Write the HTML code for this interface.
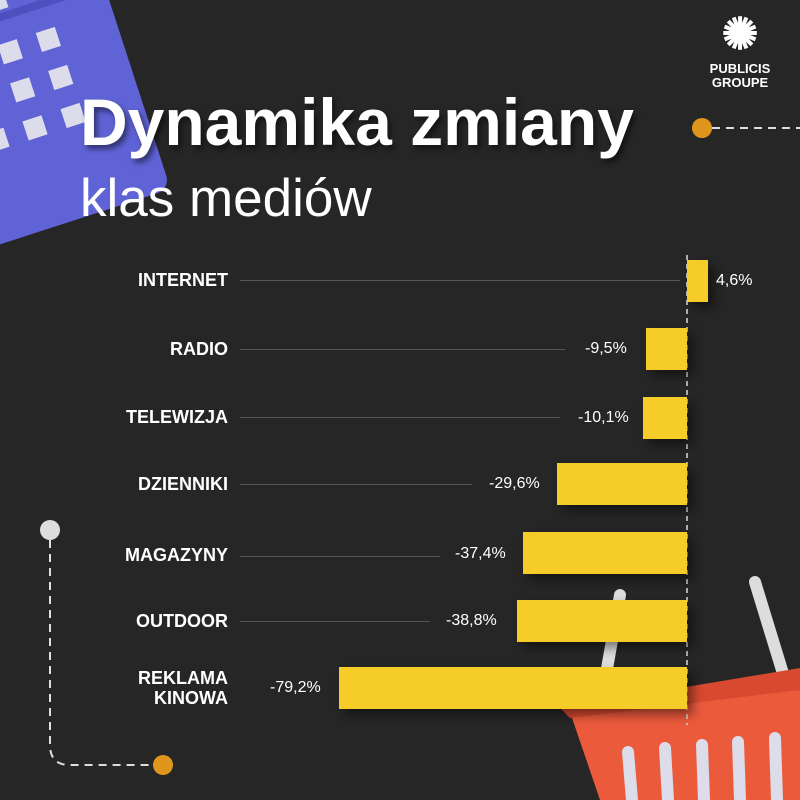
<!DOCTYPE html>
<html><head><style>
body{margin:0;width:800px;height:800px;background:#262626;overflow:hidden;position:relative;font-family:"Liberation Sans",sans-serif}
.l{position:absolute;right:572px;color:#fff;font-weight:bold;font-size:18px;text-align:right;line-height:20px}
.v{position:absolute;color:#fff;font-size:16px}
.b{position:absolute;background:#f6cc28;height:42px;box-shadow:6px 6px 10px rgba(0,0,0,.45)}
.g{position:absolute;left:240px;height:1px;background:#555}
</style></head><body>
<svg width="800" height="800" style="position:absolute;left:0;top:0">
<g transform="translate(-10 -14) rotate(-18 80 120)">
<rect x="-80" y="-60" width="230" height="290" rx="14" fill="#5f63d6"/>
<rect x="-80" y="10" width="230" height="8" fill="#4d51c0"/>
<g fill="#dcdcea">
<rect x="-10" y="40" width="20" height="20"/><rect x="30" y="40" width="20" height="20"/><rect x="70" y="40" width="20" height="20"/>
<rect x="-10" y="80" width="20" height="20"/><rect x="30" y="80" width="20" height="20"/><rect x="70" y="80" width="20" height="20"/>
<rect x="-10" y="120" width="20" height="20"/><rect x="30" y="120" width="20" height="20"/><rect x="70" y="120" width="20" height="20"/>
<rect x="-10" y="-15" width="12" height="22"/><rect x="40" y="-15" width="12" height="22"/>
</g></g>
<path d="M50 540 V745 Q50 765 70 765 H150" stroke="#ddd" stroke-width="2" stroke-dasharray="8 6" fill="none"/>
<circle cx="50" cy="530" r="10" fill="#ddd"/>
<circle cx="163" cy="765" r="10" fill="#e0961c"/>
<path d="M712 128 H800" stroke="#ddd" stroke-width="2" stroke-dasharray="8 6"/>
<circle cx="702" cy="128" r="10" fill="#e0961c"/>
<line x1="620" y1="595" x2="605" y2="680" stroke="#ddd" stroke-width="12" stroke-linecap="round"/>
<line x1="755" y1="582" x2="785" y2="680" stroke="#ddd" stroke-width="12" stroke-linecap="round"/>
<polygon points="570,712 800,675 800,800 600,800" fill="#ec5a3c"/>
<polygon points="560,708 800,668 800,690 570,718" fill="#d84a30"/>
<g stroke="#dcdcea" stroke-width="12" stroke-linecap="round">
<line x1="628" y1="752" x2="632" y2="800"/><line x1="665" y1="748" x2="668" y2="800"/><line x1="702" y1="745" x2="704" y2="800"/><line x1="738" y1="742" x2="740" y2="800"/><line x1="775" y1="738" x2="777" y2="800"/>
</g>
<line x1="687" y1="255" x2="687" y2="725" stroke="#ddd" stroke-width="1.5" stroke-dasharray="5 4"/>
</svg>
<div style="position:absolute;left:80px;top:84px;color:#fff;font-weight:bold;font-size:66px;text-shadow:3px 4px 6px rgba(0,0,0,.5)">Dynamika zmiany</div>
<div style="position:absolute;left:80px;top:168px;color:#fff;font-size:53px">klas mediów</div>
<div style="position:absolute;left:700px;top:8px;width:80px;text-align:center;color:#fff;font-weight:bold;font-size:13px;line-height:14px"><div style="font-size:44px;line-height:54px">✺</div>PUBLICIS<br>GROUPE</div>

<div class="g" style="top:280px;width:440px"></div>
<div class="g" style="top:349px;width:325px"></div>
<div class="g" style="top:417px;width:320px"></div>
<div class="g" style="top:484px;width:232px"></div>
<div class="g" style="top:556px;width:200px"></div>
<div class="g" style="top:621px;width:190px"></div>

<div class="l" style="top:270px">INTERNET</div>
<div class="l" style="top:339px">RADIO</div>
<div class="l" style="top:407px">TELEWIZJA</div>
<div class="l" style="top:474px">DZIENNIKI</div>
<div class="l" style="top:545px">MAGAZYNY</div>
<div class="l" style="top:611px">OUTDOOR</div>
<div class="l" style="top:668px">REKLAMA<br>KINOWA</div>

<div class="b" style="left:687px;width:21px;top:260px"></div>
<div class="b" style="left:646px;width:41px;top:328px"></div>
<div class="b" style="left:643px;width:44px;top:397px"></div>
<div class="b" style="left:557px;width:130px;top:463px"></div>
<div class="b" style="left:523px;width:164px;top:532px"></div>
<div class="b" style="left:517px;width:170px;top:600px"></div>
<div class="b" style="left:339px;width:348px;top:667px"></div>

<div class="v" style="left:716px;top:272px">4,6%</div>
<div class="v" style="left:585px;top:340px">-9,5%</div>
<div class="v" style="left:578px;top:409px">-10,1%</div>
<div class="v" style="left:489px;top:475px">-29,6%</div>
<div class="v" style="left:455px;top:545px">-37,4%</div>
<div class="v" style="left:446px;top:612px">-38,8%</div>
<div class="v" style="left:270px;top:679px">-79,2%</div>
</body></html>
